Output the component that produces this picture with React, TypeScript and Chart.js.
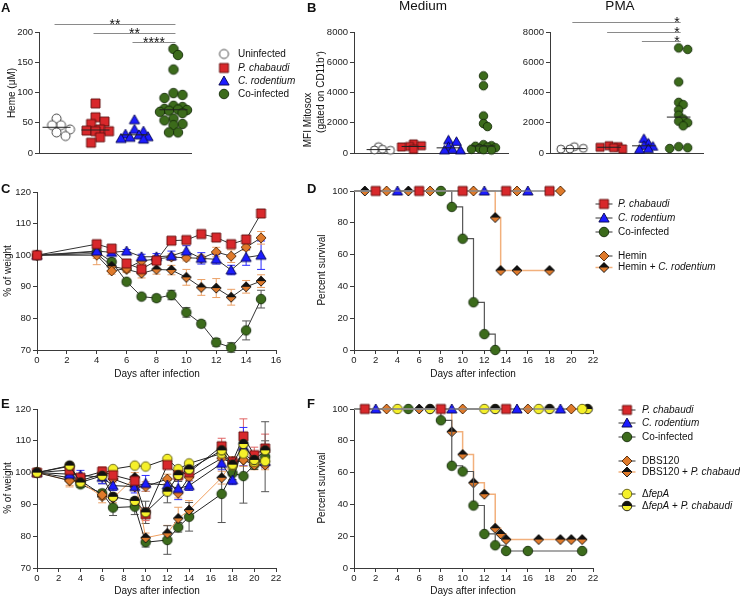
import React, { useEffect, useRef } from 'react';
import { Chart, registerables } from 'chart.js';
Chart.register(...registerables);

const W = 740;
const H = 597;
const FONT = '"Liberation Sans", Arial, Helvetica, sans-serif';
const AXIS = '#3a3a3a';

// ---------------- Panel A: Heme (µM) ----------------
const hemeUninfected = [57, 46, 46, 39, 34, 28];
const hemePchabaudi = [82, 59, 52, 48, 39, 37, 36, 36, 26, 17];
const hemeCrodentium = [55, 39, 36, 31, 30, 27, 26, 24, 23];
const hemeCoinfected = [172, 162, 138, 99, 96, 91, 78, 76, 73, 72, 71, 70, 68, 66, 57, 54, 48, 46, 34, 34];
const hemeSig = [
  { from: 1, to: 4, y: 213, text: '**' },
  { from: 2, to: 4, y: 198, text: '**' },
  { from: 3, to: 4, y: 183, text: '****' },
];

// ---------------- Panel B: MFI Mitosox ----------------
const mediumUninfected = [420, 250, 200, 180];
const mediumPchabaudi = [600, 480, 430, 400, 250];
const mediumCrodentium = [860, 760, 420, 260, 200, 200];
const mediumCoinfected = [5100, 4450, 2450, 1950, 1750, 550, 480, 450, 400, 350, 300, 250, 220, 200];
const pmaUninfected = [420, 310, 270, 260];
const pmaPchabaudi = [480, 420, 380, 350, 270];
const pmaCrodentium = [950, 650, 500, 450, 300, 250];
const pmaCoinfected = [6950, 6850, 4700, 3350, 3200, 2850, 2500, 2250, 2100, 2000, 1800, 420, 350, 300];
const pmaSig = [
  { from: 1, to: 4, y: 8640, text: '*' },
  { from: 2, to: 4, y: 8020, text: '*' },
  { from: 3, to: 4, y: 7400, text: '*' },
];

// ---------------- Panel C: % of weight ----------------
const daysC = [0, 4, 5, 6, 7, 8, 9, 10, 11, 12, 13, 14, 15];
const pcC = [100, 103.5, 102.1, 97.4, 95.6, 98.3, 104.6, 104.8, 106.7, 105.6, 103.5, 105, 113.2];
const crC = [100, 101.3, 100.9, 101.3, 99.5, 99.5, 99.8, 101.3, 99, 98.7, 95.3, 99.3, 100];
const coC = [100, 101.1, 97.9, 91.6, 86.9, 86.4, 87.4, 81.9, 78.3, 72.4, 70.8, 76.2, 86.1];
const heminC = [100, 100, 95, 95.8, 98.2, 98.8, 99.4, 99.2, 99, 101, 99.7, 102.5, 105.5];
const heminCrC = [100, 100.5, 96.5, 95.5, 94.3, 95.5, 95.3, 93, 89.8, 89.6, 86.7, 90, 91.8];
const pcErrC = [0, 0.8, 0.8, 1, 1, 1, 0.8, 0.8, 0.8, 0.8, 1, 1, 1];
const crErrC = [0, 1, 1, 0.5, 0.8, 1, 1.5, 1.7, 1.8, 1.5, 1.5, 2.5, 4.5];
const coErrC = [0, 1, 1, 0.8, 0.8, 1, 1.5, 1.5, 1, 1.2, 1.5, 3, 2.8];
const heminErrC = [0, 1, 1, 1, 1, 1, 1, 1, 1, 1.5, 2, 1, 2];
const heminCrErrC = [0, 3.5, 1.5, 1, 1.5, 1.5, 1.5, 2.5, 2.5, 3, 2.5, 2, 2];

// ---------------- Panel D: Percent survival ----------------
const pcSurvDaysD = [0, 2, 6, 10, 14, 18];
const pcSurvD = [100, 100, 100, 100, 100, 100];
const crSurvDaysD = [0, 4, 12, 16];
const crSurvD = [100, 100, 100, 100];
const coSurvDaysD = [0, 8, 9, 10, 11, 12, 13];
const coSurvD = [100, 100, 90, 70, 30, 10, 0];
const heminSurvDaysD = [0, 3, 7, 11, 15, 19];
const heminSurvD = [100, 100, 100, 100, 100, 100];
const heminCrSurvDaysD = [0, 1, 5, 13, 13.5, 15, 18];
const heminCrSurvD = [100, 100, 100, 83.3, 50, 50, 50];

// ---------------- Panel E: % of weight ----------------
const daysE = [0, 3, 4, 6, 7, 9, 10, 12, 13, 14, 17, 18, 19, 20, 21];
const pcE = [100, 100.8, 98.4, 100.3, 99.2, 97.4, 86.9, 102.4, 99.2, 100.1, 108.3, 103.4, 111.4, 105.5, 107.6];
const crE = [100, 99.5, 99.2, 98.5, 95.9, 95.6, 96.6, 96.1, 95, 95.9, 102.9, 97.7, 108.2, 104.5, 103.5];
const coE = [100, 98.4, 96.3, 93.5, 89, 89.3, 78.1, 78.8, 82.8, 86.1, 93.3, 99.8, 98.9, 102.5, 105];
const dbsE = [100, 97.5, 97.5, 93, 98, 95.5, 95.6, 98, 93.5, 98.5, 104.5, 103, 104, 102.4, 102.4];
const dbsPcE = [100, 97.5, 97, 92.5, 92, 98.5, 79.5, 80.9, 85.6, 88.2, 98.4, 103.5, 104, 103, 103.5];
const fepE = [100, 102, 97.5, 99.5, 101.1, 102.2, 101.9, 104.3, 101.1, 102.9, 106, 102.2, 106, 103.4, 103.6];
const fepPcE = [100, 102.2, 96.9, 99, 92.4, 91.1, 87.5, 94, 99.2, 101, 107, 102.5, 109, 104, 107];
const pcErrE = [0, 1, 1, 1.5, 1, 1, 2, 1, 1.5, 1, 2.5, 1.5, 5.5, 2.5, 4.5];
const crErrE = [0, 1, 1.5, 2, 1.5, 2, 2.5, 2, 3.5, 1.5, 2, 1.5, 6, 2, 2];
const coErrE = [0, 1, 1, 1, 2.5, 2.5, 1.5, 4.5, 1.5, 4.5, 9, 2, 8.5, 1.5, 11];
const dbsErrE = [0, 1.5, 1, 1.5, 1, 1, 1.5, 1.5, 1.5, 1, 1.5, 1.5, 2, 1.5, 1.5];
const dbsPcErrE = [0, 2, 1, 2, 1.5, 1.5, 1.5, 2.5, 3.5, 3, 2, 1.5, 2, 2, 2];
const fepErrE = [0, 0.5, 0.5, 0.5, 0.5, 0.5, 0.5, 0.5, 0.5, 0.5, 1, 1, 1, 1, 1];
const fepPcErrE = [0, 1, 1, 2.5, 1, 1, 3.5, 3.5, 2, 1.5, 2.5, 1.5, 3, 2, 3];

// ---------------- Panel F: Percent survival ----------------
const pcSurvDaysF = [0, 1, 8, 14];
const pcSurvF = [100, 100, 100, 100];
const crSurvDaysF = [0, 2, 9, 15, 19];
const crSurvF = [100, 100, 100, 100, 100];
const coSurvDaysF = [0, 5, 8, 9, 10, 11, 12, 13, 14, 16, 21];
const coSurvF = [100, 100, 92.9, 64.3, 60.7, 39.3, 21.4, 14.3, 10.7, 10.7, 10.7];
const dbsSurvDaysF = [0, 3, 10, 16, 20];
const dbsSurvF = [100, 100, 100, 100, 100];
const dbsPcSurvDaysF = [0, 6, 9, 10, 11, 12, 13, 13.5, 14, 17, 19, 20, 21];
const dbsPcSurvF = [100, 100, 85.7, 71.4, 53.6, 46.4, 25, 21.4, 17.9, 17.9, 17.9, 17.9, 17.9];
const fepSurvDaysF = [0, 4, 12, 17, 21];
const fepSurvF = [100, 100, 100, 100, 100];
const fepPcSurvDaysF = [0, 7, 13, 18, 21.5];
const fepPcSurvF = [100, 100, 100, 100, 100];

// ---------------- helpers ----------------
type Seg = { t: string; i?: boolean };
type TextItem = { x: number; y: number; segs: Seg[]; size?: number; bold?: boolean; rot?: number; align?: 'left' | 'center' | 'right' };
type LegendItem = { x: number; y: number; img: HTMLCanvasElement; line?: string; tx: number; segs: Seg[] };
type Sig = { from: number; to: number; y: number; text: string };
type Area = { l: number; r: number; t: number; b: number };

function marker(shape: string, size: number, fill: string, stroke: string, top?: string): HTMLCanvasElement {
  const s = Math.ceil(size + 4);
  const c = document.createElement('canvas');
  c.width = s;
  c.height = s;
  const g = c.getContext('2d') as CanvasRenderingContext2D;
  const m = s / 2;
  const r = size / 2;
  const path = () => {
    g.beginPath();
    if (shape === 'circle') g.arc(m, m, r, 0, Math.PI * 2);
    else if (shape === 'square') g.rect(m - r, m - r, size, size);
    else if (shape === 'triangle') {
      g.moveTo(m, m - r * 1.05);
      g.lineTo(m + r * 1.08, m + r * 0.85);
      g.lineTo(m - r * 1.08, m + r * 0.85);
      g.closePath();
    } else {
      g.moveTo(m, m - r);
      g.lineTo(m + r, m);
      g.lineTo(m, m + r);
      g.lineTo(m - r, m);
      g.closePath();
    }
  };
  path();
  g.fillStyle = fill;
  g.fill();
  if (top) {
    g.save();
    path();
    g.clip();
    g.fillStyle = top;
    g.fillRect(0, 0, s, m);
    g.restore();
  }
  path();
  g.lineWidth = 0.9;
  g.strokeStyle = stroke;
  g.stroke();
  return c;
}

function median(a: number[]) {
  const s = [...a].sort((p, q) => p - q);
  const n = s.length;
  return n % 2 ? s[(n - 1) / 2] : (s[n / 2 - 1] + s[n / 2]) / 2;
}

// simple beeswarm: returns x offsets (in x units) computed from the values
function swarm(values: number[], pxY: number, pxX: number, dist: number, step: number, maxK: number) {
  const placed: { x: number; y: number }[] = [];
  return values.map((v) => {
    const y = v * pxY;
    let best = 0;
    let bestScore = -1;
    for (let k = 0; k < maxK; k++) {
      const x = (k % 2 === 1 ? 1 : -1) * Math.ceil(k / 2) * step;
      let md = Infinity;
      for (const p of placed) md = Math.min(md, Math.hypot(p.x - x, p.y - y));
      if (md >= dist) {
        best = x;
        bestScore = Infinity;
        break;
      }
      if (md > bestScore) {
        bestScore = md;
        best = x;
      }
    }
    placed.push({ x: best, y });
    return best / pxX;
  });
}

function drawSegs(ctx: CanvasRenderingContext2D, it: TextItem) {
  const size = it.size ?? 10;
  ctx.save();
  ctx.translate(it.x, it.y);
  if (it.rot) ctx.rotate(it.rot);
  ctx.textBaseline = 'middle';
  ctx.textAlign = 'left';
  ctx.fillStyle = '#111';
  const fontOf = (s: Seg) => `${s.i ? 'italic ' : ''}${it.bold ? 'bold ' : ''}${size}px ${FONT}`;
  let total = 0;
  const widths = it.segs.map((s) => {
    ctx.font = fontOf(s);
    const w = ctx.measureText(s.t).width;
    total += w;
    return w;
  });
  let x = it.align === 'center' ? -total / 2 : it.align === 'right' ? -total : 0;
  it.segs.forEach((s, k) => {
    ctx.font = fontOf(s);
    ctx.fillText(s.t, x, 0);
    x += widths[k];
  });
  ctx.restore();
}

function decor(cfg: { texts?: TextItem[]; legend?: LegendItem[]; sig?: Sig[]; sigAlign?: 'center' | 'right' }) {
  return {
    id: 'decor',
    beforeDatasetsDraw(chart: any) {
      const ctx: CanvasRenderingContext2D = chart.ctx;
      const ys = chart.scales.y;
      chart.data.datasets.forEach((ds: any, i: number) => {
        if (!ds.errors) return;
        const meta = chart.getDatasetMeta(i);
        ctx.save();
        ctx.strokeStyle = ds.errorColor || '#444';
        ctx.lineWidth = 1;
        ds.errors.forEach((e: number, j: number) => {
          if (!e) return;
          const el = meta.data[j];
          const v = ds.data[j].y;
          const y1 = ys.getPixelForValue(v + e);
          const y2 = ys.getPixelForValue(v - e);
          ctx.beginPath();
          ctx.moveTo(el.x, y1);
          ctx.lineTo(el.x, y2);
          ctx.moveTo(el.x - 4, y1);
          ctx.lineTo(el.x + 4, y1);
          ctx.moveTo(el.x - 4, y2);
          ctx.lineTo(el.x + 4, y2);
          ctx.stroke();
        });
        ctx.restore();
      });
    },
    afterDraw(chart: any) {
      const ctx: CanvasRenderingContext2D = chart.ctx;
      ctx.save();
      if (cfg.sig) {
        const xs = chart.scales.x;
        const ys = chart.scales.y;
        cfg.sig.forEach((s) => {
          const x1 = xs.getPixelForValue(s.from) - 2;
          const x2 = xs.getPixelForValue(s.to) + 2;
          const y = Math.round(ys.getPixelForValue(s.y)) + 0.5;
          ctx.strokeStyle = '#8a8a8a';
          ctx.lineWidth = 1;
          ctx.beginPath();
          ctx.moveTo(x1, y);
          ctx.lineTo(x2, y);
          ctx.stroke();
          ctx.fillStyle = '#111';
          ctx.font = `14px ${FONT}`;
          ctx.textBaseline = 'alphabetic';
          if (cfg.sigAlign === 'right') {
            ctx.textAlign = 'right';
            ctx.fillText(s.text, x2 - 1, y + 4.5);
          } else {
            ctx.textAlign = 'center';
            ctx.fillText(s.text, (x1 + x2) / 2, y + 4.5);
          }
        });
      }
      (cfg.texts || []).forEach((t) => drawSegs(ctx, t));
      (cfg.legend || []).forEach((l) => {
        if (l.line) {
          ctx.strokeStyle = l.line;
          ctx.lineWidth = 1.5;
          ctx.beginPath();
          ctx.moveTo(l.x - 8.5, l.y);
          ctx.lineTo(l.x + 8.5, l.y);
          ctx.stroke();
        }
        ctx.drawImage(l.img, l.x - l.img.width / 2, l.y - l.img.height / 2);
        drawSegs(ctx, { x: l.tx, y: l.y, segs: l.segs, size: 10 });
      });
      ctx.restore();
    },
  };
}

function layoutFor(a: Area, yw: number, xh: number) {
  return {
    autoPadding: false,
    padding: { left: a.l - yw, top: a.t, right: W - a.r, bottom: H - a.b - xh },
  };
}

function yAxis(min: number, max: number, step: number, yw: number) {
  return {
    type: 'linear',
    min,
    max,
    ticks: { stepSize: step, font: { size: 9.5 }, color: '#222', padding: 2, callback: (v: any) => String(v) },
    grid: { drawOnChartArea: false, tickLength: 4, color: AXIS, lineWidth: 1 },
    border: { color: AXIS, width: 1 },
    afterFit: (s: any) => {
      s.width = yw;
    },
  };
}

function xAxisTicks(min: number, max: number, step: number, xh: number) {
  return {
    type: 'linear',
    min,
    max,
    ticks: { stepSize: step, font: { size: 9.5 }, color: '#222', padding: 1, maxRotation: 0, autoSkip: false, callback: (v: any) => String(v) },
    grid: { drawOnChartArea: false, tickLength: 4, color: AXIS, lineWidth: 1 },
    border: { color: AXIS, width: 1 },
    afterFit: (s: any) => {
      s.height = xh;
    },
  };
}

function xAxisPlain(min: number, max: number) {
  return {
    type: 'linear',
    min,
    max,
    ticks: { display: false },
    grid: { drawOnChartArea: false, drawTicks: false, color: AXIS },
    border: { color: AXIS, width: 1 },
    afterFit: (s: any) => {
      s.height = 4;
    },
  };
}

function dotChart(
  canvas: HTMLCanvasElement,
  p: { area: Area; xMin: number; xMax: number; yMax: number; yStep: number; groups: number[][]; imgs: HTMLCanvasElement[]; dist: number; step: number; half: number; deco: any }
) {
  const pxY = (p.area.b - p.area.t) / p.yMax;
  const pxX = (p.area.r - p.area.l) / (p.xMax - p.xMin);
  const datasets: any[] = [];
  p.groups.forEach((g, i) => {
    const m = median(g);
    datasets.push({
      data: [
        { x: i + 1 - p.half, y: m },
        { x: i + 1 + p.half, y: m },
      ],
      borderColor: '#222',
      borderWidth: 1,
      pointRadius: 0,
      showLine: true,
      clip: false,
    });
  });
  p.groups.forEach((g, i) => {
    const off = swarm(g, pxY, pxX, p.dist, p.step, 7);
    datasets.push({
      data: g.map((v, j) => ({ x: i + 1 + off[j], y: v })),
      pointStyle: p.imgs[i],
      pointRadius: 5,
      showLine: false,
      clip: false,
    });
  });
  return new Chart(canvas, {
    type: 'line',
    data: { datasets },
    options: {
      responsive: false,
      animation: false,
      events: [],
      layout: layoutFor(p.area, 30, 4),
      plugins: { legend: { display: false }, tooltip: { enabled: false } },
      scales: { x: xAxisPlain(p.xMin, p.xMax), y: yAxis(0, p.yMax, p.yStep, 30) },
    } as any,
    plugins: [decor(p.deco)],
  } as any);
}

function weightDs(days: number[], vals: number[], errs: number[], img: HTMLCanvasElement, line: string, errColor: string) {
  return {
    data: days.map((d, i) => ({ x: d, y: vals[i] })),
    borderColor: line,
    borderWidth: 1,
    pointStyle: img,
    pointRadius: 5,
    fill: false,
    clip: false,
    errors: errs,
    errorColor: errColor,
  };
}

function survDs(days: number[], vals: number[], img: HTMLCanvasElement, line: string, width: number) {
  return {
    data: days.map((d, i) => ({ x: d, y: vals[i] })),
    borderColor: line,
    borderWidth: width,
    stepped: 'before',
    pointStyle: img,
    pointRadius: (c: any) => (c.dataIndex === 0 ? 0 : 5),
    fill: false,
    clip: false,
  };
}

function lineChart(canvas: HTMLCanvasElement, area: Area, xMax: number, yMin: number, yMax: number, yStep: number, datasets: any[], deco: any) {
  return new Chart(canvas, {
    type: 'line',
    data: { datasets },
    options: {
      responsive: false,
      animation: false,
      events: [],
      layout: layoutFor(area, 30, 20),
      plugins: { legend: { display: false }, tooltip: { enabled: false } },
      scales: { x: xAxisTicks(0, xMax, 2, 20), y: yAxis(yMin, yMax, yStep, 30) },
    } as any,
    plugins: [decor(deco)],
  } as any);
}

const rot = -Math.PI / 2;
const days = [{ t: 'Days after infection' }];

export default function App() {
  const box = useRef<HTMLDivElement>(null);
  useEffect(() => {
    Chart.defaults.font.family = FONT;
    Chart.defaults.color = '#222';
    const cv = Array.from((box.current as HTMLDivElement).querySelectorAll('canvas')) as HTMLCanvasElement[];

    const M = {
      white: marker('circle', 9, '#ffffff', '#333333'),
      red: marker('square', 9, '#d8282b', '#5e0e0e'),
      blue: marker('triangle', 9.5, '#1c1cff', '#06064d'),
      green: marker('circle', 9.5, '#3c6b1b', '#142b08'),
      orange: marker('diamond', 10, '#df7a2b', '#4d2606'),
      orangeBlack: marker('diamond', 10, '#df7a2b', '#111111', '#111111'),
      yellow: marker('circle', 9.5, '#f5f02a', '#5e5a10'),
      yellowBlack: marker('circle', 9.5, '#f5f02a', '#111111', '#111111'),
    };
    const S = {
      white: marker('circle', 8, '#ffffff', '#333333'),
      red: marker('square', 8, '#d8282b', '#5e0e0e'),
      blue: marker('triangle', 9, '#1c1cff', '#06064d'),
      green: marker('circle', 8.5, '#3c6b1b', '#142b08'),
    };

    const charts: Chart[] = [];

    // ---- A ----
    charts.push(
      dotChart(cv[0], {
        area: { l: 39, r: 191, t: 32, b: 153 },
        xMin: 0.55,
        xMax: 4.45,
        yMax: 200,
        yStep: 50,
        groups: [hemeUninfected, hemePchabaudi, hemeCrodentium, hemeCoinfected],
        imgs: [M.white, M.red, M.blue, M.green],
        dist: 7.5,
        step: 4.5,
        half: 0.36,
        deco: {
          sig: hemeSig,
          sigAlign: 'center',
          texts: [
            { x: 1, y: 8, segs: [{ t: 'A' }], size: 13, bold: true },
            { x: 12, y: 93, segs: [{ t: 'Heme (μM)' }], size: 10, rot, align: 'center' },
          ],
          legend: [
            { x: 224, y: 54, img: M.white, tx: 238, segs: [{ t: 'Uninfected' }] },
            { x: 224, y: 68, img: M.red, tx: 238, segs: [{ t: 'P. chabaudi', i: true }] },
            { x: 224, y: 81, img: M.blue, tx: 238, segs: [{ t: 'C. rodentium', i: true }] },
            { x: 224, y: 94, img: M.green, tx: 238, segs: [{ t: 'Co-infected' }] },
          ],
        },
      })
    );

    // ---- B Medium ----
    charts.push(
      dotChart(cv[1], {
        area: { l: 354, r: 508, t: 32, b: 153 },
        xMin: 0.3,
        xMax: 4.7,
        yMax: 8000,
        yStep: 2000,
        groups: [mediumUninfected, mediumPchabaudi, mediumCrodentium, mediumCoinfected],
        imgs: [S.white, S.red, S.blue, S.green],
        dist: 4.5,
        step: 4,
        half: 0.34,
        deco: {
          texts: [
            { x: 307, y: 8, segs: [{ t: 'B' }], size: 13, bold: true },
            { x: 423, y: 6, segs: [{ t: 'Medium' }], size: 13.5, align: 'center' },
            { x: 308, y: 120, segs: [{ t: 'MFI Mitosox' }], size: 10, rot, align: 'center' },
            { x: 321, y: 92, segs: [{ t: '(gated on CD11b⁺)' }], size: 10, rot, align: 'center' },
          ],
        },
      })
    );

    // ---- B PMA ----
    charts.push(
      dotChart(cv[2], {
        area: { l: 550, r: 703, t: 32, b: 153 },
        xMin: 0.3,
        xMax: 4.7,
        yMax: 8000,
        yStep: 2000,
        groups: [pmaUninfected, pmaPchabaudi, pmaCrodentium, pmaCoinfected],
        imgs: [S.white, S.red, S.blue, S.green],
        dist: 5,
        step: 4.5,
        half: 0.34,
        deco: {
          sig: pmaSig,
          sigAlign: 'right',
          texts: [{ x: 620, y: 6, segs: [{ t: 'PMA' }], size: 13.5, align: 'center' }],
        },
      })
    );

    // ---- C ----
    charts.push(
      lineChart(
        cv[3],
        { l: 37, r: 276, t: 192, b: 350 },
        16,
        70,
        120,
        10,
        [
          weightDs(daysC, pcC, pcErrC, M.red, '#333', '#999'),
          weightDs(daysC, crC, crErrC, M.blue, '#333', '#2a2aff'),
          weightDs(daysC, heminC, heminErrC, M.orange, '#333', '#eba066'),
          weightDs(daysC, heminCrC, heminCrErrC, M.orangeBlack, '#333', '#eba066'),
          weightDs(daysC, coC, coErrC, M.green, '#333', '#555'),
        ],
        {
          texts: [
            { x: 1, y: 189, segs: [{ t: 'C' }], size: 13, bold: true },
            { x: 8, y: 271, segs: [{ t: '% of weight' }], size: 10, rot, align: 'center' },
            { x: 157, y: 374, segs: days, size: 10, align: 'center' },
          ],
        }
      )
    );

    // ---- D ----
    charts.push(
      lineChart(
        cv[4],
        { l: 354, r: 593, t: 191, b: 350 },
        22,
        0,
        100,
        20,
        [
          survDs(pcSurvDaysD, pcSurvD, M.red, '#8a8a8a', 1.2),
          survDs(crSurvDaysD, crSurvD, M.blue, '#8a8a8a', 1.2),
          survDs(heminSurvDaysD, heminSurvD, M.orange, '#8a8a8a', 1.2),
          survDs(coSurvDaysD, coSurvD, M.green, '#555', 1.2),
          survDs(heminCrSurvDaysD, heminCrSurvD, M.orangeBlack, '#f2b07c', 1.5),
        ],
        {
          texts: [
            { x: 307, y: 189, segs: [{ t: 'D' }], size: 13, bold: true },
            { x: 322, y: 270, segs: [{ t: 'Percent survival' }], size: 10, rot, align: 'center' },
            { x: 473, y: 374, segs: days, size: 10, align: 'center' },
          ],
          legend: [
            { x: 604, y: 204, img: M.red, line: '#777', tx: 618, segs: [{ t: 'P. chabaudi', i: true }] },
            { x: 604, y: 218, img: M.blue, line: '#777', tx: 618, segs: [{ t: 'C. rodentium', i: true }] },
            { x: 604, y: 232, img: M.green, line: '#777', tx: 618, segs: [{ t: 'Co-infected' }] },
            { x: 604, y: 256, img: M.orange, line: '#777', tx: 618, segs: [{ t: 'Hemin' }] },
            { x: 604, y: 267.5, img: M.orangeBlack, line: '#f2b07c', tx: 618, segs: [{ t: 'Hemin + ' }, { t: 'C. rodentium', i: true }] },
          ],
        }
      )
    );

    // ---- E ----
    charts.push(
      lineChart(
        cv[5],
        { l: 37, r: 276, t: 409, b: 568 },
        22,
        70,
        120,
        10,
        [
          weightDs(daysE, fepPcE, fepPcErrE, M.yellowBlack, '#222', '#555'),
          weightDs(daysE, pcE, pcErrE, M.red, '#222', '#e06464'),
          weightDs(daysE, fepE, fepErrE, M.yellow, '#222', '#888'),
          weightDs(daysE, crE, crErrE, M.blue, '#222', '#3030ff'),
          weightDs(daysE, dbsE, dbsErrE, M.orange, '#222', '#eba066'),
          weightDs(daysE, dbsPcE, dbsPcErrE, M.orangeBlack, '#f0a060', '#eba066'),
          weightDs(daysE, coE, coErrE, M.green, '#222', '#555'),
        ],
        {
          texts: [
            { x: 1, y: 404.5, segs: [{ t: 'E' }], size: 13, bold: true },
            { x: 8, y: 488, segs: [{ t: '% of weight' }], size: 10, rot, align: 'center' },
            { x: 157, y: 591, segs: days, size: 10, align: 'center' },
          ],
        }
      )
    );

    // ---- F ----
    charts.push(
      lineChart(
        cv[6],
        { l: 354, r: 593, t: 409, b: 568 },
        22,
        0,
        100,
        20,
        [
          survDs(pcSurvDaysF, pcSurvF, M.red, '#8a8a8a', 1.2),
          survDs(crSurvDaysF, crSurvF, M.blue, '#8a8a8a', 1.2),
          survDs(dbsSurvDaysF, dbsSurvF, M.orange, '#8a8a8a', 1.2),
          survDs(fepSurvDaysF, fepSurvF, M.yellow, '#8a8a8a', 1.2),
          survDs(fepPcSurvDaysF, fepPcSurvF, M.yellowBlack, '#8a8a8a', 1.2),
          survDs(coSurvDaysF, coSurvF, M.green, '#555', 1.2),
          survDs(dbsPcSurvDaysF, dbsPcSurvF, M.orangeBlack, '#f2b07c', 1.5),
        ],
        {
          texts: [
            { x: 307, y: 404.5, segs: [{ t: 'F' }], size: 13, bold: true },
            { x: 322, y: 488, segs: [{ t: 'Percent survival' }], size: 10, rot, align: 'center' },
            { x: 473, y: 591, segs: days, size: 10, align: 'center' },
          ],
          legend: [
            { x: 627, y: 410, img: M.red, line: '#777', tx: 642, segs: [{ t: 'P. chabaudi', i: true }] },
            { x: 627, y: 423, img: M.blue, line: '#777', tx: 642, segs: [{ t: 'C. rodentium', i: true }] },
            { x: 627, y: 437, img: M.green, line: '#777', tx: 642, segs: [{ t: 'Co-infected' }] },
            { x: 627, y: 461, img: M.orange, line: '#777', tx: 642, segs: [{ t: 'DBS120' }] },
            { x: 627, y: 472, img: M.orangeBlack, line: '#f2b07c', tx: 642, segs: [{ t: 'DBS120 + ' }, { t: 'P. chabaudi', i: true }] },
            { x: 627, y: 494, img: M.yellow, line: '#777', tx: 642, segs: [{ t: 'Δ' }, { t: 'fepA', i: true }] },
            { x: 627, y: 506, img: M.yellowBlack, line: '#777', tx: 642, segs: [{ t: 'Δ' }, { t: 'fepA', i: true }, { t: ' + ' }, { t: 'P. chabaudi', i: true }] },
          ],
        }
      )
    );

    return () => charts.forEach((c) => c.destroy());
  }, []);

  return (
    <div ref={box} style={{ position: 'absolute', left: 0, top: 0, width: W, height: H, background: '#ffffff', overflow: 'hidden' }}>
      {[0, 1, 2, 3, 4, 5, 6].map((i) => (
        <canvas key={i} width={W} height={H} style={{ position: 'absolute', left: 0, top: 0 }} />
      ))}
    </div>
  );
}
